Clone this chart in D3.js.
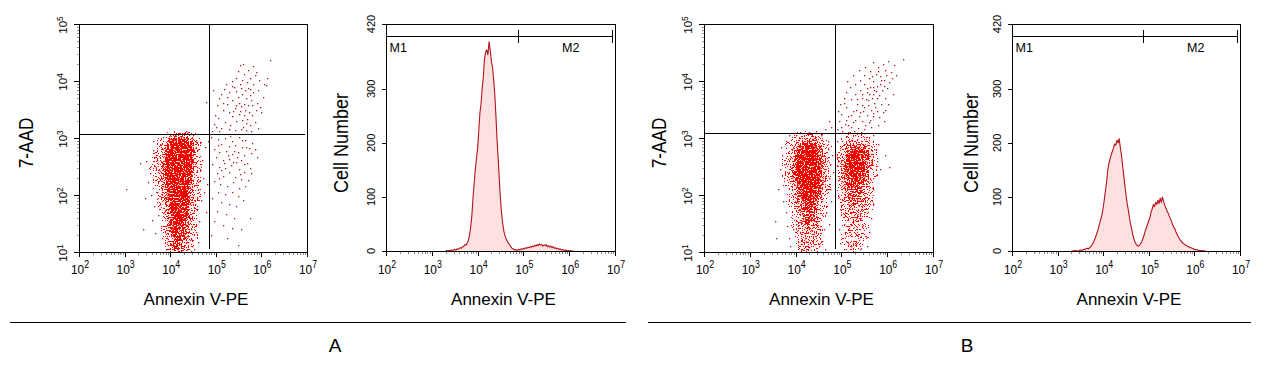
<!DOCTYPE html>
<html><head><meta charset="utf-8">
<script src="https://cdn.jsdelivr.net/npm/d3@7"></script>
<style>
body{margin:0;background:#fff}
svg{display:block}
text{font-family:"Liberation Sans",Arial,Helvetica,sans-serif;fill:#000}
</style></head>
<body><svg id="c" width="1269" height="365"></svg>
<script>
// ---------------- DATA ----------------
const xDecades = [2,3,4,5,6,7];
const yDecades = [1,2,3,4,5];
const histYTicks = [0,100,200,300,420];
const xTitle = "Annexin V-PE";
const yTitleScatter = "7-AAD";
const yTitleHist = "Cell Number";
const panelLabels = ["A","B"];
const gateLabels = ["M1","M2"];
// gate boundaries (log10 Annexin V-PE)
const gateA = [2.0, 4.878, 6.935];
const gateB = [2.01, 4.876, 6.94];
// quadrant markers (log10 x, log10 y)
const quadA = [4.85, 3.075];
const quadB = [4.854, 3.08];

// histograms: counts per log10 bin, bins start at 3.300, width 0.025
const histStart = 3.3, histStep = 0.025;
const histA = [0,1,0,1,1,2,1,2,3,2,4,3,5,6,5,8,9,12,11,15,20,30,45,66,98,125,150,172,188,222,255,272,300,322,355,368,372,363,387,372,352,340,318,290,250,205,170,130,95,68,50,36,28,22,18,14,11,8,5,4,2,3,1,2,3,2,4,3,5,4,6,5,7,6,8,7,9,8,11,9,12,10,13,11,12,9,11,10,12,8,10,7,9,6,8,5,6,4,5,3,4,2,3,2,1,2,1,1,0,1,0,0,0];
const histB = [0,0,0,1,1,0,0,1,2,1,2,3,3,4,5,4,6,8,11,14,19,24,30,36,44,52,60,68,80,96,112,128,150,162,170,178,184,190,198,196,205,200,208,192,178,158,140,122,104,88,76,62,50,40,30,22,16,12,10,9,11,14,18,24,30,38,44,50,56,62,72,78,86,82,90,86,94,88,98,90,100,92,84,80,74,70,64,60,54,48,44,40,34,30,26,22,19,17,14,13,11,10,9,8,6,6,5,4,3,3,2,2,1,1,1,0,1,0,0];

// scatter density (0-9), cells 0.1 decade; rows from log10 y 3.0 down to 1.0
const cellSize = 0.1;
const densityTop = 3.0;
const densityColStartA = 3.5;
const densityA = [
 [0,0,0,0,1,2,2,2,2,1,1,0,0,0],
 [0,0,1,1,3,6,7,7,6,4,2,1,0,0],
 [0,0,1,2,6,8,9,9,8,7,3,1,0,0],
 [0,1,1,3,7,9,9,9,9,8,3,1,0,0],
 [0,1,2,3,7,9,9,9,9,8,3,1,0,0],
 [0,1,2,4,7,9,9,9,9,7,3,1,0,0],
 [1,1,2,4,7,9,9,9,9,7,2,1,0,0],
 [0,1,2,4,7,9,9,9,8,6,2,1,0,0],
 [0,1,2,3,6,9,9,9,8,5,2,1,0,0],
 [0,1,1,3,6,9,9,9,8,4,2,1,0,0],
 [0,0,1,3,5,8,9,9,7,4,2,1,0,0],
 [0,0,1,2,5,8,9,9,7,4,2,1,0,0],
 [0,0,1,2,4,7,9,8,6,4,2,0,0,0],
 [0,0,1,2,4,7,9,8,6,3,2,0,0,0],
 [0,0,0,1,3,6,8,7,5,3,1,0,0,0],
 [0,0,0,1,3,6,7,7,5,3,1,0,0,0],
 [0,0,0,1,3,5,6,6,4,3,1,0,0,0],
 [0,0,0,1,3,5,6,5,4,2,1,0,0,0],
 [0,0,0,1,2,4,5,5,4,2,1,0,0,0],
 [0,0,0,0,2,4,5,4,3,2,0,0,0,0],
 [0,0,0,0,2,3,4,3,3,1,0,0,0,0]
];
const densityColStartB = 3.6;
const densityB = [
 [0,0,0,1,1,2,2,2,1,1,0,0,0,0,1,1,1,1,1,0,0,0,0,0],
 [0,0,1,1,3,4,4,4,3,2,1,0,0,0,1,2,2,2,2,2,1,0,0,0],
 [0,1,1,2,4,6,7,7,6,4,2,1,0,1,2,4,5,5,5,4,2,1,0,0],
 [0,1,1,3,5,7,8,8,7,5,2,1,0,1,3,5,6,7,7,5,3,1,0,0],
 [0,1,2,3,6,8,9,9,8,6,3,1,0,1,3,6,7,8,7,6,3,1,0,0],
 [0,1,2,4,7,8,9,9,8,6,3,1,0,1,4,6,8,8,7,5,3,1,0,0],
 [1,1,2,4,7,9,9,9,8,6,3,1,0,1,4,6,7,8,7,5,2,1,0,0],
 [0,1,2,4,7,8,9,9,8,5,3,1,0,1,4,6,7,7,6,4,2,1,0,0],
 [0,1,2,3,6,8,9,9,7,5,2,1,0,1,3,5,6,6,5,4,2,0,0,0],
 [0,1,1,3,5,7,9,8,7,4,2,1,0,1,3,5,5,5,4,3,1,0,0,0],
 [0,0,1,2,4,7,8,8,6,4,2,0,0,1,3,4,5,4,4,3,1,0,0,0],
 [0,0,1,2,4,6,8,7,5,3,1,0,0,1,2,4,4,4,3,2,1,0,0,0],
 [0,0,1,2,3,5,7,6,4,3,1,0,0,1,2,3,4,4,3,2,1,0,0,0],
 [0,0,0,1,3,5,6,5,4,2,1,0,0,0,2,3,3,3,3,2,1,0,0,0],
 [0,0,0,1,2,4,5,5,3,2,1,0,0,0,2,3,3,3,2,2,0,0,0,0],
 [0,0,0,1,2,4,5,4,3,2,0,0,0,0,1,2,3,3,2,1,0,0,0,0],
 [0,0,0,1,2,3,4,4,3,1,0,0,0,0,1,2,3,2,2,1,0,0,0,0],
 [0,0,0,0,2,3,4,3,2,1,0,0,0,0,1,2,2,2,2,1,0,0,0,0],
 [0,0,0,0,1,3,3,3,2,1,0,0,0,0,1,2,2,2,1,1,0,0,0,0],
 [0,0,0,0,1,2,3,3,2,1,0,0,0,0,1,1,2,2,1,0,0,0,0,0],
 [0,0,0,0,1,2,2,2,1,0,0,0,0,0,0,1,1,1,1,0,0,0,0,0]
];

// individual events (log10 x, log10 y)
const eventsA = [
 [5.52,4.28],[5.81,4.27],[6.19,4.37],[5.70,4.20],[5.62,4.12],[5.88,4.15],[5.45,4.05],[5.75,4.06],[5.95,4.02],[6.05,3.95],
 [4.94,3.84],[4.79,3.64],[6.10,3.93],[6.03,3.72],[5.60,3.20],[5.70,3.88],[5.76,3.86],[5.52,3.95],[5.40,3.90],[5.30,3.80],
 [5.18,3.86],[5.08,3.70],[5.25,3.60],[5.35,3.66],[5.48,3.72],[5.58,3.78],[5.66,3.70],[5.82,3.80],[5.90,3.62],[5.98,3.55],
 [5.42,3.52],[5.55,3.56],[5.64,3.50],[5.72,3.45],[5.80,3.40],[5.50,3.42],[5.36,3.38],[5.28,3.45],[5.15,3.50],[5.05,3.35],
 [4.98,3.40],[5.20,3.28],[5.32,3.22],[5.45,3.30],[5.58,3.32],[5.66,3.26],[5.74,3.22],[5.85,3.28],[5.92,3.18],[5.55,3.15],
 [5.42,3.14],[5.30,3.16],[5.12,3.18],[5.00,3.20],[4.92,3.12],[5.78,3.12],[5.66,3.14],[5.62,3.60],[5.68,3.98],[5.85,4.10],
 [5.60,4.30],[5.48,4.18],[5.35,4.00],[5.22,3.95],[5.12,3.78],[5.44,3.82],[5.55,3.88],[5.92,3.85],[6.00,3.45],[5.70,3.58],
 [5.88,3.50],[5.38,3.48],[5.50,3.62],[5.62,3.40],[5.78,3.66],[5.25,3.72],[5.02,3.58],[5.15,3.62],[5.45,3.58],[5.82,3.95],
 [5.58,4.02],[5.65,3.84],[5.75,3.76],[4.95,3.25],[5.08,3.12],[6.12,4.05],[5.35,3.92],[5.52,3.48],[5.68,3.34],[5.80,3.58],
 [4.90,3.02],[5.05,2.98],[5.20,3.00],[5.35,2.95],[5.50,3.02],[5.65,2.97],[5.80,2.92],[5.12,2.90],[5.28,2.86],[5.42,2.88],
 [5.58,2.84],[5.72,2.82],[4.95,2.80],[5.08,2.76],[5.22,2.78],[5.36,2.72],[5.48,2.76],[5.62,2.70],[5.78,2.74],[5.90,2.66],
 [5.00,2.66],[5.15,2.62],[5.30,2.64],[5.44,2.58],[5.56,2.62],[5.68,2.56],[4.92,2.55],[5.06,2.50],[5.20,2.48],[5.34,2.52],
 [5.50,2.46],[5.62,2.40],[5.75,2.48],[5.02,2.38],[5.16,2.34],[5.28,2.40],[5.42,2.32],[5.55,2.28],[5.70,2.26],[4.95,2.25],
 [5.10,2.20],[5.25,2.16],[5.38,2.22],[5.50,2.12],[5.64,2.15],[5.05,2.05],[5.20,2.02],[5.35,2.06],[5.48,1.98],[4.92,1.95],
 [5.12,1.88],[5.30,1.85],[5.45,1.80],[5.60,1.92],[5.02,1.72],[5.22,1.66],[5.40,1.60],[4.95,1.55],[5.15,1.48],[5.35,1.42],
 [5.55,1.40],[4.90,1.30],[5.25,1.25],[5.48,1.12],[5.75,1.60],[5.62,2.55],[5.40,2.78],[5.26,2.70],[5.12,2.44],[5.85,2.80],
 [5.58,2.96],[5.32,3.04],[5.46,2.66],[5.18,2.56],[5.66,2.84],[5.04,2.88],[5.52,2.36],[5.38,2.58],[5.78,2.38],[5.08,2.30],
 [3.03,2.11],[3.33,2.56],[3.63,2.79],[3.55,2.38],[3.52,2.23],[3.59,1.56],[3.66,1.33],[3.72,2.62],[3.75,2.45],[3.70,2.05],
 [3.78,1.85],[3.74,1.65],[3.80,1.45],[3.82,1.25],[3.78,2.90],[3.85,3.02],[3.68,2.70],[3.80,2.30],[3.84,2.15],[3.86,1.95],
 [4.55,2.95],[4.62,2.80],[4.70,2.62],[4.66,2.45],[4.72,2.30],[4.60,2.10],[4.68,1.92],[4.58,1.75],[4.64,1.55],[4.56,1.35],
 [4.60,1.18],[4.52,1.05],[4.76,2.85],[4.74,2.05],[4.50,3.06],[4.40,3.10],[4.25,3.08],[4.10,3.06],[3.98,3.04],[4.35,3.12],
 [3.90,1.05],[3.95,1.12],[4.48,1.10],[4.45,1.02],[3.88,1.35],[4.50,1.50],[4.54,1.85],[3.86,1.70],[3.90,2.55],[4.58,2.50],
 [3.62,2.95],[3.48,2.60],[3.45,1.95],[3.40,1.40],[3.58,2.00],[4.80,2.20],[4.78,1.70],[4.82,2.95],[3.65,1.80],[4.62,1.00],
 [3.95,1.60],[4.02,1.52],[4.12,1.45],[4.22,1.58],[4.32,1.50],[4.42,1.62],[3.98,1.38],[4.08,1.30],[4.18,1.22],[4.28,1.35],
 [4.38,1.28],[4.46,1.40],[4.00,1.15],[4.10,1.08],[4.20,1.02],[4.30,1.12],[4.40,1.18],[3.94,1.25],[4.14,1.65],[4.36,1.05],
 [4.05,1.42],[4.25,1.30],[4.45,1.22],[4.15,1.12],[3.92,1.48]
];
const eventsB = [
 [5.69,4.34],[6.35,4.38],[6.02,4.35],[5.90,4.30],[5.80,4.25],[6.15,4.28],[5.95,4.20],[6.08,4.15],[5.75,4.12],[5.85,4.08],
 [6.20,4.10],[5.60,4.05],[5.70,4.00],[5.92,4.02],[6.05,3.98],[5.50,3.95],[5.62,3.90],[5.78,3.92],[5.88,3.85],[6.00,3.88],
 [5.40,3.85],[5.55,3.80],[5.68,3.78],[5.82,3.75],[5.95,3.70],[5.30,3.78],[5.45,3.70],[5.58,3.66],[5.72,3.62],[5.86,3.60],
 [5.20,3.68],[5.35,3.60],[5.50,3.55],[5.64,3.50],[5.78,3.48],[5.10,3.55],[5.25,3.48],[5.40,3.45],[5.55,3.40],[5.70,3.38],
 [5.00,3.42],[5.15,3.38],[5.30,3.32],[5.45,3.30],[5.60,3.28],[4.95,3.30],[5.08,3.25],[5.22,3.20],[5.36,3.18],[5.50,3.15],
 [5.65,3.20],[4.90,3.15],[5.02,3.12],[5.15,3.10],[5.28,3.12],[5.42,3.10],[5.80,3.22],[5.92,3.30],[4.73,3.30],[4.65,3.15],
 [5.62,4.18],[5.50,4.10],[5.40,4.02],[5.30,3.95],[5.18,3.90],[5.10,3.80],[5.05,3.70],[4.98,3.60],[5.12,4.00],[5.25,4.10],
 [5.38,4.20],[5.52,4.25],[5.98,4.10],[6.10,4.05],[5.66,3.70],[5.76,3.82],[5.84,3.95],[5.56,3.88],[5.44,3.78],[5.34,3.68],
 [5.58,3.58],[5.48,3.48],[5.38,3.38],[5.26,3.28],[5.14,3.22],[5.68,3.44],[5.74,3.54],[5.62,3.32],[5.52,3.22],[5.82,3.36],
 [6.02,3.60],[5.96,3.50],[6.12,3.78],[5.90,3.45],[5.78,3.70],[5.92,3.92],[5.70,3.90],[5.66,4.08],[5.80,4.18],[5.86,4.02],
 [5.20,3.40],[5.32,3.50],[5.44,3.58],[5.54,3.68],[5.60,3.78],[5.72,3.84],[5.00,3.20],[5.10,3.32],[4.92,3.48],[5.06,3.62],
 [3.66,2.45],[3.55,1.55],[3.62,2.10],[3.70,2.70],[3.75,2.30],[3.72,1.90],[3.78,1.70],[3.80,2.95],[3.85,3.05],[3.68,2.85],
 [3.82,1.45],[3.86,1.25],[3.74,2.55],[3.88,1.10],[3.58,1.24],
 [4.70,2.80],[4.75,2.55],[4.72,2.30],[4.68,2.10],[4.78,1.90],[4.66,1.70],[4.74,1.50],[4.70,2.95],[4.80,2.70],[4.62,1.40],
 [4.58,1.20],[4.64,1.05],[4.55,3.05],[4.45,3.12],[4.30,3.10],[4.15,3.08],[4.00,3.06],[4.82,2.40],[4.76,2.10],[4.78,3.20],
 [4.90,2.95],[4.92,2.60],[4.95,2.30],[4.92,2.00],[4.96,1.75],[4.94,1.40],[4.98,1.15],[5.72,2.80],[5.78,2.60],[5.75,2.35],
 [5.70,2.10],[5.80,2.90],[5.85,2.45],[5.95,2.70],[6.05,2.50],[5.68,1.85],[5.65,1.60],[5.60,1.35],[5.55,1.10],[5.70,3.05],
 [5.50,3.08],[5.30,3.06],[5.10,3.04],
 [4.00,1.50],[4.10,1.35],[4.25,1.42],[4.35,1.20],[4.45,1.55],[4.05,1.18],[4.15,1.05],[4.30,1.08],[4.40,1.35],[3.95,1.40],
 [4.20,1.25],[4.50,1.10],
 [5.05,1.50],[5.15,1.40],[5.25,1.55],[5.35,1.30],[5.45,1.45],[5.10,1.20],[5.20,1.10],[5.30,1.15],[5.40,1.05],[5.05,1.05]
];

// ---------------- DRAWING ----------------
const svg = d3.select("#c");
const defs = svg.append("defs");

// speckle rendering of the event density (pink haze + thresholded grain)
const f = defs.append("filter").attr("id","speck").attr("color-interpolation-filters","sRGB")
  .attr("x","-5%").attr("y","-5%").attr("width","110%").attr("height","110%");
f.append("feGaussianBlur").attr("in","SourceGraphic").attr("stdDeviation",1.3).attr("result","b");
f.append("feTurbulence").attr("type","fractalNoise").attr("baseFrequency",0.75).attr("numOctaves",2).attr("seed",11).attr("result","n");
f.append("feColorMatrix").attr("in","n").attr("type","matrix")
  .attr("values","0 0 0 0 0  0 0 0 0 0  0 0 0 0 0  3 0 0 0 -1").attr("result","na");
f.append("feComposite").attr("in","b").attr("in2","na").attr("operator","arithmetic")
  .attr("k1",0).attr("k2",1).attr("k3",-1).attr("k4",0.44).attr("result","d");
const ct = f.append("feComponentTransfer").attr("in","d").attr("result","t");
ct.append("feFuncA").attr("type","discrete").attr("tableValues","0 1");
f.append("feFlood").attr("flood-color","#f40000").attr("result","fl");
f.append("feComposite").attr("in","fl").attr("in2","t").attr("operator","in").attr("result","grain");
f.append("feColorMatrix").attr("in","b").attr("type","matrix")
  .attr("values","0 0 0 0 0.99  0 0 0 0 0.72  0 0 0 0 0.72  0 0 0 0.55 0").attr("result","haze");
const mg = f.append("feMerge");
mg.append("feMergeNode").attr("in","haze");
mg.append("feMergeNode").attr("in","grain");

const FONT = '"Liberation Sans",Arial,Helvetica,sans-serif';
const minorMult = [2,3,4,5,6,7,8,9];

function frameAndXAxis(g, sx, box){
  const {x0,x1,y0,y1} = box;
  const minors = [];
  xDecades.slice(0,-1).forEach(d => minorMult.forEach(m => minors.push(m*Math.pow(10,d))));
  g.append("g").selectAll("line").data(minors).join("line")
    .attr("x1", d=>Math.round(sx(d))+0.5).attr("x2", d=>Math.round(sx(d))+0.5)
    .attr("y1", y1).attr("y2", y1+3).attr("stroke","#8a8a8a").attr("stroke-width",1);
  g.append("g").selectAll("line").data(xDecades).join("line")
    .attr("x1", d=>Math.round(sx(Math.pow(10,d)))+0.5).attr("x2", d=>Math.round(sx(Math.pow(10,d)))+0.5)
    .attr("y1", y1).attr("y2", y1+5).attr("stroke","#000").attr("stroke-width",1);
  const lab = g.append("g").selectAll("text").data(xDecades).join("text")
    .attr("transform", d=>`translate(${sx(Math.pow(10,d))+1},273.5) scale(0.88,1)`)
    .attr("text-anchor","middle").style("font-family",FONT);
  lab.append("tspan").attr("font-size",13.5).text("10");
  lab.append("tspan").attr("font-size",10).attr("dy",-5.5).text(d=>d);
  g.append("rect").attr("x",x0+0.5).attr("y",y0+0.5).attr("width",x1-x0).attr("height",y1-y0)
    .attr("fill","none").attr("stroke","#000").attr("stroke-width",1);
}

function titles(g, box, yTitle, yTitleX, sc){
  const {x0,x1} = box;
  g.append("text").attr("transform",`translate(${yTitleX},143) rotate(-90) scale(${sc},1)`)
    .attr("text-anchor","middle").attr("font-size",20).style("font-family",FONT).text(yTitle);
  g.append("text").attr("x",(x0+x1)/2+3).attr("y",305).attr("text-anchor","middle")
    .attr("font-size",17).style("font-family",FONT).text(xTitle);
}

function scatterPanel(box, density, colStart, events, quad, yTitleX, id){
  const {x0,x1,y0,y1} = box;
  const sx = d3.scaleLog().domain([1e2,1e7]).range([x0,x1]);
  const sy = d3.scaleLog().domain([1e1,1e5]).range([y1,y0]);
  const g = svg.append("g");
  defs.append("clipPath").attr("id","clip"+id).append("rect")
    .attr("x",x0+1).attr("y",y0+1).attr("width",x1-x0-1).attr("height",y1-y0-1);
  const cells = [];
  density.forEach((row,ri) => row.forEach((v,ci) => {
    if (v>0) cells.push({lx: colStart + ci*cellSize, ly: densityTop - ri*cellSize, v});
  }));
  const plot = g.append("g").attr("clip-path",`url(#clip${id})`);
  plot.append("g").attr("filter","url(#speck)").selectAll("rect").data(cells).join("rect")
    .attr("x", d=>sx(Math.pow(10,d.lx)))
    .attr("width", d=>sx(Math.pow(10,d.lx+cellSize))-sx(Math.pow(10,d.lx)))
    .attr("y", d=>sy(Math.pow(10,d.ly+cellSize)))
    .attr("height", d=>sy(Math.pow(10,d.ly))-sy(Math.pow(10,d.ly+cellSize)))
    .attr("fill","#ff0000").attr("fill-opacity", d=>Math.min(1,d.v/7));
  plot.append("g").selectAll("rect").data(events).join("rect")
    .attr("x", d=>Math.round(sx(Math.pow(10,d[0])))).attr("y", d=>Math.round(sy(Math.pow(10,d[1]))))
    .attr("width",1.3).attr("height",1.3).attr("fill","#c0141c");
  const qx = Math.round(sx(Math.pow(10,quad[0])))+0.5;
  const qy = Math.round(sy(Math.pow(10,quad[1])))+0.5;
  g.append("line").attr("x1",qx).attr("x2",qx).attr("y1",y0).attr("y2",y1-3).attr("stroke","#000");
  g.append("line").attr("x1",x0+1).attr("x2",x1-2).attr("y1",qy).attr("y2",qy).attr("stroke","#000");
  const minors = [];
  yDecades.slice(0,-1).forEach(d => minorMult.forEach(m => minors.push(m*Math.pow(10,d))));
  g.append("g").selectAll("line").data(minors).join("line")
    .attr("x1",x0-2).attr("x2",x0).attr("y1",d=>Math.round(sy(d))+0.5).attr("y2",d=>Math.round(sy(d))+0.5)
    .attr("stroke","#9a9a9a");
  g.append("g").selectAll("line").data(yDecades).join("line")
    .attr("x1",x0-5).attr("x2",x0).attr("y1",d=>Math.round(sy(Math.pow(10,d)))+0.5).attr("y2",d=>Math.round(sy(Math.pow(10,d)))+0.5)
    .attr("stroke","#000");
  const lab = g.append("g").selectAll("text").data(yDecades).join("text")
    .attr("transform", d=>`translate(${x0-12},${sy(Math.pow(10,d))+1}) rotate(-90)`)
    .attr("text-anchor","middle").style("font-family",FONT);
  lab.append("tspan").attr("font-size",11.5).text("10");
  lab.append("tspan").attr("font-size",8.5).attr("dy",-4.5).text(d=>d);
  frameAndXAxis(g, sx, box);
  titles(g, box, yTitleScatter, yTitleX, 0.86);
}

function histPanel(box, counts, gate, yTitleX, m2x){
  const {x0,x1,y0,y1} = box;
  const sx = d3.scaleLog().domain([1e2,1e7]).range([x0,x1]);
  const sy = d3.scaleLinear().domain([0,420]).range([y1,y0]);
  const g = svg.append("g");
  const bins = counts.map((v,i)=>({lx: histStart + i*histStep, v}));
  const area = d3.area().x(d=>sx(Math.pow(10,d.lx))).y0(sy(0)).y1(d=>sy(d.v));
  const line = d3.line().x(d=>sx(Math.pow(10,d.lx))).y(d=>sy(d.v));
  g.append("path").attr("d",area(bins)).attr("fill","#fde1e1");
  g.append("path").attr("d",line(bins)).attr("fill","none").attr("stroke","#b3131b").attr("stroke-width",1.1)
    .attr("stroke-linejoin","round");
  g.append("g").selectAll("line").data(histYTicks).join("line")
    .attr("x1",x0-4).attr("x2",x0).attr("y1",d=>Math.round(sy(d))+0.5).attr("y2",d=>Math.round(sy(d))+0.5)
    .attr("stroke","#000");
  g.append("g").selectAll("text").data(histYTicks).join("text")
    .attr("transform", d=>`translate(${x0-11},${sy(d)}) rotate(-90)`)
    .attr("text-anchor","middle").attr("font-size",11).style("font-family",FONT).text(d=>d);
  const gy = 36.5;
  const gx = gate.map(v=>Math.round(sx(Math.pow(10,v)))+0.5);
  g.append("line").attr("x1",gx[0]).attr("x2",gx[2]).attr("y1",gy).attr("y2",gy).attr("stroke","#000");
  g.append("g").selectAll("line").data(gx).join("line")
    .attr("x1",d=>d).attr("x2",d=>d).attr("y1",gy-6.5).attr("y2",gy+6.5).attr("stroke","#000").attr("stroke-width",1);
  g.append("text").attr("x",gx[0]+3).attr("y",51.5).attr("font-size",12.5).style("font-family",FONT).text(gateLabels[0]);
  g.append("text").attr("x",m2x).attr("y",51.5).attr("font-size",12.5).style("font-family",FONT).text(gateLabels[1]);
  frameAndXAxis(g, sx, box);
  titles(g, box, yTitleHist, yTitleX, 0.9);
}

scatterPanel({x0:79,x1:307,y0:24,y1:252}, densityA, densityColStartA, eventsA, quadA, 33, "A");
histPanel({x0:386,x1:615,y0:24,y1:251}, histA, gateA, 348, 562);
scatterPanel({x0:704,x1:933,y0:24,y1:252}, densityB, densityColStartB, eventsB, quadB, 666, "B");
histPanel({x0:1012,x1:1240,y0:24,y1:251}, histB, gateB, 978, 1187);

const groups = [{x1:10,x2:626,cx:335},{x1:648,x2:1251,cx:967}];
svg.append("g").selectAll("line").data(groups).join("line")
  .attr("x1",d=>d.x1).attr("x2",d=>d.x2).attr("y1",322.5).attr("y2",322.5).attr("stroke","#000");
svg.append("g").selectAll("text").data(groups).join("text")
  .attr("x",d=>d.cx).attr("y",352).attr("text-anchor","middle").attr("font-size",19)
  .style("font-family",FONT).text((d,i)=>panelLabels[i]);
</script>
</body></html>
